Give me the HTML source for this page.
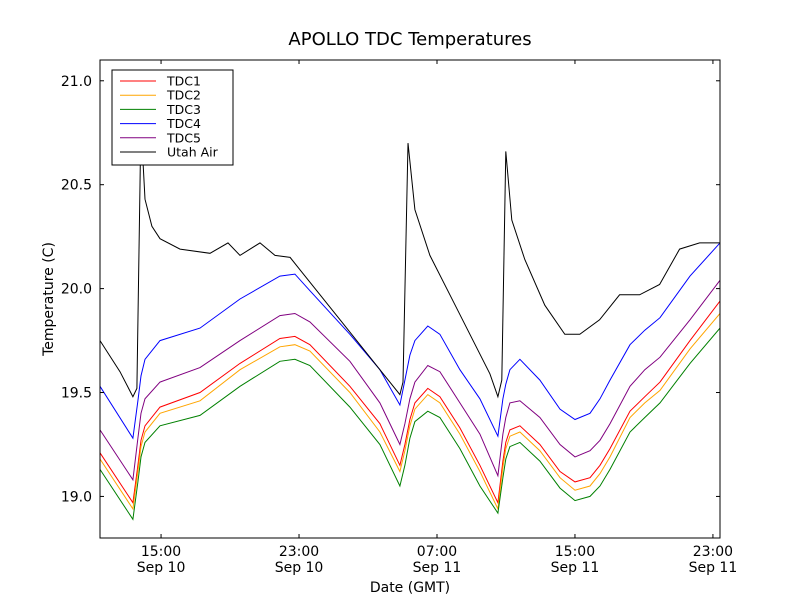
<!DOCTYPE html>
<html><head><meta charset="utf-8"><style>
body{margin:0;background:#fff;}
svg{display:block;font-family:"DejaVu Sans","Liberation Sans",sans-serif;}
</style></head><body>
<svg id="chart" width="800" height="600">
<rect width="800" height="600" fill="#fff"/>
<text x="410" y="45" text-anchor="middle" font-size="18">APOLLO TDC Temperatures</text>
<g id="plot"></g>
<text x="410" y="592" text-anchor="middle" font-size="14">Date (GMT)</text>
<text transform="translate(53,299) rotate(-90)" text-anchor="middle" font-size="14">Temperature (C)</text>
</svg>
<script>
const tTimes=[11.46,13.37,13.66,13.84,14.07,14.94,17.26,19.58,21.89,22.76,23.63,25.95,27.69,28.85,29.14,29.43,29.72,30.47,31.17,32.33,33.49,34.53,34.82,34.99,35.23,35.81,36.97,38.13,39.00,39.87,40.45,41.03,42.19,43.05,43.93,45.67,47.41];
const tdc1=[19.21,18.97,19.15,19.27,19.34,19.43,19.50,19.64,19.76,19.77,19.73,19.53,19.35,19.15,19.25,19.37,19.45,19.52,19.48,19.33,19.15,18.97,19.17,19.26,19.32,19.34,19.25,19.12,19.07,19.09,19.15,19.23,19.41,19.48,19.55,19.75,19.94];
const tdc2=[19.18,18.94,19.12,19.24,19.31,19.40,19.46,19.61,19.72,19.73,19.70,19.50,19.31,19.12,19.22,19.34,19.42,19.49,19.45,19.30,19.12,18.94,19.14,19.23,19.29,19.31,19.22,19.09,19.03,19.05,19.11,19.19,19.38,19.45,19.51,19.71,19.88];
const tdc3=[19.13,18.89,19.07,19.19,19.26,19.34,19.39,19.53,19.65,19.66,19.63,19.43,19.25,19.05,19.15,19.28,19.36,19.41,19.38,19.23,19.05,18.92,19.09,19.18,19.24,19.26,19.17,19.04,18.98,19.00,19.05,19.13,19.31,19.38,19.45,19.64,19.81];
const tdc4=[19.53,19.28,19.46,19.58,19.66,19.75,19.81,19.95,20.06,20.07,19.99,19.78,19.61,19.44,19.56,19.68,19.75,19.82,19.78,19.61,19.47,19.29,19.47,19.54,19.61,19.66,19.56,19.42,19.37,19.40,19.47,19.56,19.73,19.80,19.86,20.06,20.22];
const tdc5=[19.32,19.08,19.28,19.40,19.47,19.55,19.62,19.75,19.87,19.88,19.84,19.65,19.45,19.25,19.35,19.47,19.55,19.63,19.60,19.45,19.30,19.10,19.30,19.38,19.45,19.46,19.38,19.25,19.19,19.22,19.27,19.35,19.53,19.61,19.67,19.85,20.04];
const airTimes=[11.46,12.62,13.37,13.60,13.78,13.83,14.07,14.47,14.94,16.10,17.84,18.88,19.58,20.74,21.61,22.48,23.06,25.38,27.69,28.85,29.03,29.32,29.72,30.59,31.75,32.91,34.07,34.53,34.76,34.99,35.34,36.09,37.25,38.41,39.28,40.43,41.59,42.75,43.91,45.07,46.23,47.41];
const air=[19.75,19.60,19.48,19.52,20.5,20.80,20.43,20.30,20.24,20.19,20.17,20.22,20.16,20.22,20.16,20.15,20.09,19.85,19.61,19.49,19.55,20.70,20.38,20.16,19.97,19.78,19.59,19.48,19.56,20.66,20.33,20.14,19.92,19.78,19.78,19.85,19.97,19.97,20.02,20.19,20.22,20.22];
const yTicks=[19.0,19.5,20.0,20.5,21.0];
const yTickLabels=["19.0","19.5","20.0","20.5","21.0"];
const xTicks=[15,23,31,39,47];
const xTickLabels1=["15:00","23:00","07:00","15:00","23:00"];
const xTickLabels2=["Sep 10","Sep 10","Sep 11","Sep 11","Sep 11"];
const seriesNames=["TDC1","TDC2","TDC3","TDC4","TDC5","Utah Air"];
const seriesColors=["red","orange","green","blue","purple","black"];

const L=100,R=720,T=60,B=538,xmin=11.46,xmax=47.41,ymin=18.8,ymax=21.1;
const X=h=>L+(h-xmin)/(xmax-xmin)*(R-L);
const Y=v=>B-(v-ymin)/(ymax-ymin)*(B-T);
const NS="http://www.w3.org/2000/svg";
const plot=document.getElementById('plot');
function mk(tag,attrs,parent){const e=document.createElementNS(NS,tag);for(const k in attrs)e.setAttribute(k,attrs[k]);(parent||plot).appendChild(e);return e;}
const clip=mk('clipPath',{id:'pc'});mk('rect',{x:L,y:T,width:R-L,height:B-T},clip);
const data=[[tTimes,tdc1],[tTimes,tdc2],[tTimes,tdc3],[tTimes,tdc4],[tTimes,tdc5],[airTimes,air]];
data.forEach((d,i)=>{
  const p=mk('polyline',{points:d[0].map((t,j)=>X(t).toFixed(1)+','+Y(d[1][j]).toFixed(1)).join(' '),fill:'none',stroke:seriesColors[i],'stroke-width':1,'clip-path':'url(#pc)'});
  
  
});
const frame=mk('rect',{x:L,y:T,width:R-L,height:B-T,fill:'none',stroke:'#000','stroke-width':1});


yTicks.forEach((v,i)=>{
  const y=Y(v);
  mk('line',{x1:L,x2:L+4,y1:y,y2:y,stroke:'#000'});mk('line',{x1:R,x2:R-4,y1:y,y2:y,stroke:'#000'});
  const t=mk('text',{x:L-8,y:y+5,'text-anchor':'end','font-size':14});t.textContent=yTickLabels[i];
  
  
});
xTicks.forEach((h,i)=>{
  const x=X(h);
  mk('line',{x1:x,x2:x,y1:B,y2:B-4,stroke:'#000'});mk('line',{x1:x,x2:x,y1:T,y2:T+4,stroke:'#000'});
  const t=mk('text',{x:x,y:556,'text-anchor':'middle','font-size':14});t.textContent=xTickLabels1[i];
  
  
  const t2=mk('text',{x:x,y:572,'text-anchor':'middle','font-size':14});t2.textContent=xTickLabels2[i];
  
  
});
const lg=mk('g',{});


mk('rect',{x:112,y:70,width:121,height:95,fill:'#fff',stroke:'#000'},lg);
seriesNames.forEach((n,i)=>{
  const y=81+i*14.2;
  const g=mk('g',{},lg);
  
  
  mk('line',{x1:120,x2:156,y1:y,y2:y,stroke:seriesColors[i]},g);
  const t=mk('text',{x:167,y:y+4.5,'font-size':12.5},g);t.textContent=n;
});
</script>
</body></html>
